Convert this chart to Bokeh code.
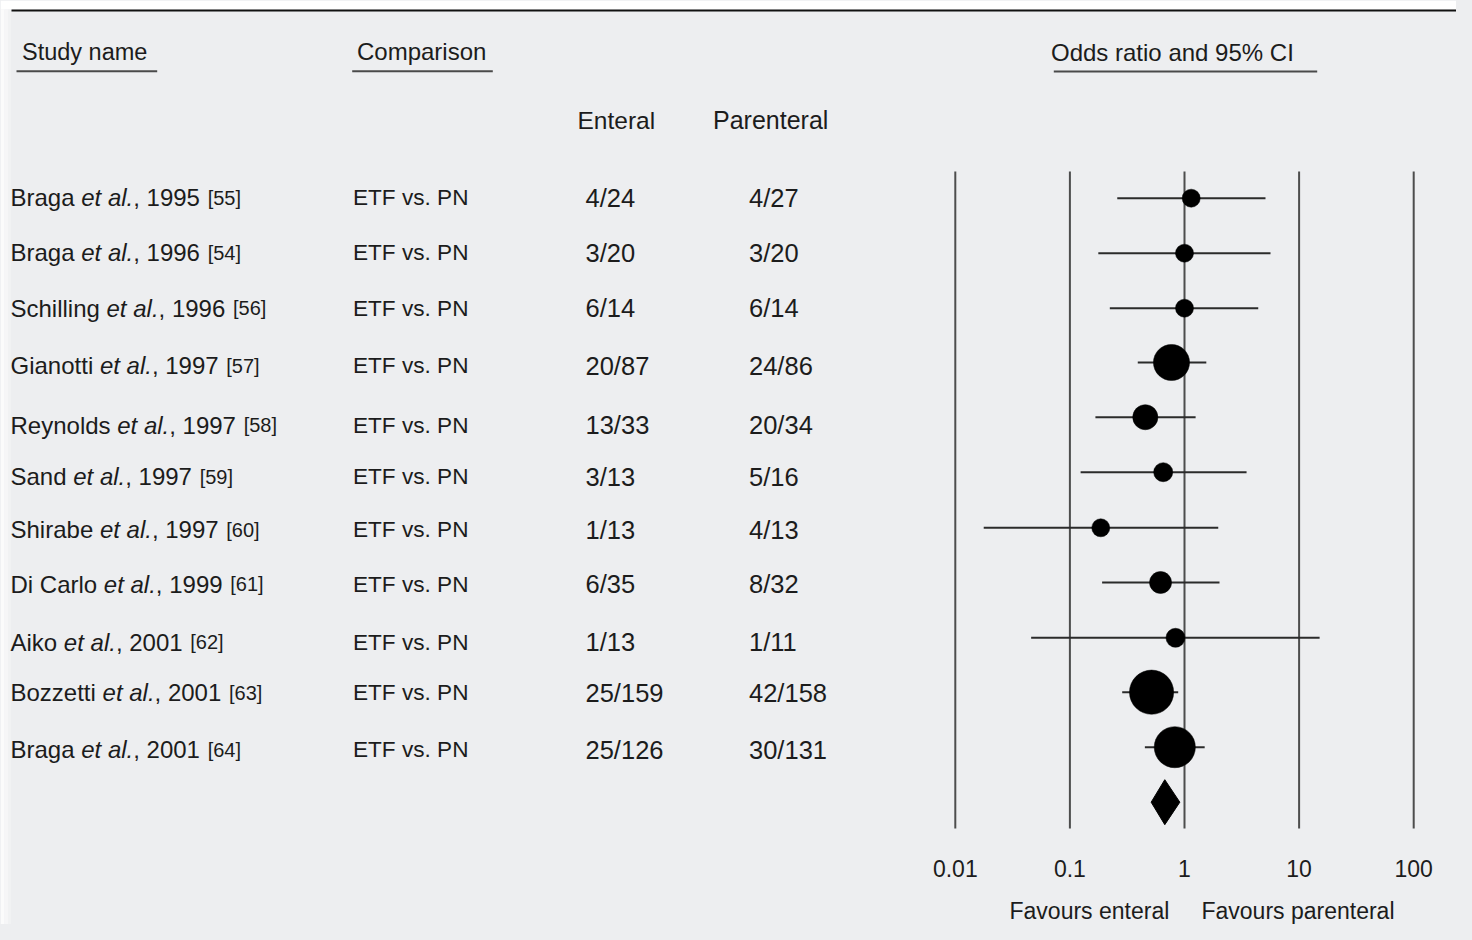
from bokeh.plotting import figure
from bokeh.models import Range1d, LogScale, ColumnDataSource
from bokeh.core.properties import value
from bokeh.embed import file_html
from bokeh.resources import INLINE

# ---------------- data ----------------
studies = ["Braga", "Braga", "Schilling", "Gianotti", "Reynolds", "Sand",
           "Shirabe", "Di Carlo", "Aiko", "Bozzetti", "Braga"]
years = [1995, 1996, 1996, 1997, 1997, 1997, 1997, 1999, 2001, 2001, 2001]
refs = [55, 54, 56, 57, 58, 59, 60, 61, 62, 63, 64]
comparison = ["ETF vs. PN"] * 11
enteral = ["4/24", "3/20", "6/14", "20/87", "13/33", "3/13", "1/13",
           "6/35", "1/13", "25/159", "25/126"]
parenteral = ["4/27", "3/20", "6/14", "24/86", "20/34", "5/16", "4/13",
              "8/32", "1/11", "42/158", "30/131"]
odds_ratio = [1.144, 1.0, 1.0, 0.77, 0.455, 0.652, 0.186, 0.618, 0.835, 0.516, 0.823]
ci_lower = [0.259, 0.177, 0.223, 0.391, 0.167, 0.124, 0.0177, 0.191, 0.0459, 0.286, 0.451]
ci_upper = [5.09, 5.63, 4.40, 1.55, 1.25, 3.48, 1.97, 2.02, 15.1, 0.881, 1.50]
weights = [4.0, 4.0, 4.0, 16.1, 7.8, 4.5, 4.0, 6.0, 4.5, 24.1, 20.9]  # relative weight (%)
pooled_or = 0.673
pooled_lower = 0.512
pooled_upper = 0.910
tick_values = [0.01, 0.1, 1, 10, 100]
tick_labels = ["0.01", "0.1", "1", "10", "100"]

# ---------------- layout (picture pixel positions) ----------------
text_row_y = [197, 252, 307.5, 365, 424.5, 476, 529, 583.5, 641.5, 692, 749]   # text baselines (shifted)
mark_row_y = [197.7, 252.7, 307.7, 362, 416.7, 471.7, 527.3, 582, 637.3, 691.7, 746.7]
pooled_y = 801.7
BG = "#edeef0"
INK = "#1c1c1c"
FONT = value("Liberation Sans")
TY = -8  # text baseline correction

# Arial / Liberation Sans advance widths (1/1000 em)
W = {" ": 278, ",": 278, ".": 278, "[": 278, "]": 278, "/": 278,
     "A": 667, "B": 667, "C": 722, "D": 722, "G": 778, "R": 722, "S": 667,
     "a": 556, "b": 556, "c": 500, "d": 556, "e": 556, "g": 556, "h": 556,
     "i": 222, "k": 500, "l": 222, "n": 556, "o": 556, "r": 333, "s": 500,
     "t": 278, "y": 500, "z": 500}


def tw(s, fs):
    return sum(W.get(c, 556) for c in s) * fs / 1000.0


p = figure(width=1456, height=924, output_backend="svg", toolbar_location=None,
           tools="", x_range=Range1d(0, 1456), y_range=Range1d(924, 0),
           x_axis_location=None, y_axis_location=None, min_border=0)
p.grid.visible = False
p.outline_line_color = None
p.background_fill_color = BG
p.border_fill_color = BG

# log scale for the odds-ratio panel: 1 -> x=1184, 114.6 px per decade
px_dec = 114.6
p.extra_x_ranges = {"or": Range1d(10 ** ((0 - 1184) / px_dec), 10 ** ((1456 - 1184) / px_dec))}
p.extra_x_scales = {"or": LogScale()}

# page frame details
p.quad(left=[0], right=[1456], bottom=[9], top=[0], fill_color="white", line_color=None)
p.quad(left=[0, 4, 7.5], right=[4, 7.5, 10.5], bottom=[924] * 3, top=[9] * 3,
       fill_color=["#fbfbfb", "#f6f6f7", "#f1f2f3"], line_color=None)
p.segment(x0=[11], x1=[1456], y0=[10], y1=[10], line_color="#111111", line_width=2)

# headers
hdr = ColumnDataSource(dict(
    x=[21.5, 356.5, 1050.5, 577, 712.5],
    y=[59 + TY, 59 + TY, 59.7 + TY, 127.5 + TY, 127.5 + TY],
    t=["Study name", "Comparison", "Odds ratio and 95% CI", "Enteral", "Parenteral"],
    fs=["23.5px", "24px", "24px", "24.5px", "25px"]))
p.text(x="x", y="y", text="t", source=hdr, text_font=FONT, text_font_size="fs",
       text_color=INK, text_baseline="alphabetic", text_align="left")
p.segment(x0=[16, 351.7, 1053.3], x1=[156.7, 492.3, 1316.7], y0=[70.7, 70.7, 71],
          y1=[70.7, 70.7, 71], line_color="#4a4a4a", line_width=2)

# study name segments
fs = 24
reg_x, reg_y, reg_t = [], [], []
it_x, it_y = [], []
ref_x, ref_y, ref_t = [], [], []
for i, name in enumerate(studies):
    x0 = 10.0
    y = text_row_y[i]
    reg_x.append(x0); reg_y.append(y); reg_t.append(name)
    x1 = x0 + tw(name + " ", fs)
    it_x.append(x1); it_y.append(y)
    x2 = x1 + tw("et al.", fs)
    yr = ", %d" % years[i]
    reg_x.append(x2); reg_y.append(y); reg_t.append(yr)
    x3 = x2 + tw(yr + " ", fs) + 1.0
    ref_x.append(x3); ref_y.append(y); ref_t.append("[%d]" % refs[i])

p.text(x=reg_x, y=reg_y, text=reg_t, text_font=FONT, text_font_size="24px",
       text_color=INK, text_baseline="alphabetic", text_align="left")
p.text(x=it_x, y=it_y, text=["et al."] * len(it_x), text_font=FONT, text_font_size="24px",
       text_font_style="italic", text_color=INK, text_baseline="alphabetic", text_align="left")
p.text(x=ref_x, y=ref_y, text=ref_t, text_font=FONT, text_font_size="20px",
       text_color=INK, text_baseline="alphabetic", text_align="left")

# comparison and counts columns
p.text(x=[352.5] * len(comparison), y=text_row_y, text=comparison, text_font=FONT,
       text_font_size="22.6px", text_color=INK, text_baseline="alphabetic", text_align="left")
p.text(x=[585] * len(enteral), y=text_row_y, text=enteral, text_font=FONT,
       text_font_size="25.5px", text_color=INK, text_baseline="alphabetic", text_align="left")
p.text(x=[748.5] * len(parenteral), y=text_row_y, text=parenteral, text_font=FONT,
       text_font_size="25.5px", text_color=INK, text_baseline="alphabetic", text_align="left")

# reference lines of the log axis
p.segment(x0=tick_values, x1=tick_values, y0=[171] * 5, y1=[828] * 5,
          line_color="#4d4d4d", line_width=2, x_range_name="or")

# confidence intervals and point estimates
p.segment(x0=ci_lower, x1=ci_upper, y0=mark_row_y, y1=mark_row_y,
          line_color="#2b2b2b", line_width=2, x_range_name="or")
sizes = [9 * w ** 0.5 for w in weights]
p.scatter(x=odds_ratio, y=mark_row_y, size=sizes, marker="circle",
          fill_color="black", line_color="black", line_width=0.5, x_range_name="or")

# pooled diamond
half_h = 22.5
p.patch(x=[pooled_lower, pooled_or, pooled_upper, pooled_or],
        y=[pooled_y, pooled_y - half_h, pooled_y, pooled_y + half_h],
        fill_color="black", line_color="black", line_width=1, x_range_name="or")

# tick labels and favours labels
p.text(x=tick_values, y=[875.5 + TY] * 5, text=tick_labels, text_font=FONT, text_font_size="23px",
       text_color=INK, text_baseline="alphabetic", text_align="center", x_range_name="or")
p.text(x=[10 ** ((1088.9 - 1184) / px_dec), 10 ** ((1297.5 - 1184) / px_dec)], y=[918 + TY] * 2,
       text=["Favours enteral", "Favours parenteral"], text_font=FONT, text_font_size="23px",
       text_color=INK, text_baseline="alphabetic", text_align="center", x_range_name="or")

html = file_html(p, INLINE)
html = html.replace("<head>", "<head><style>html, body { background: #edeef0; }</style>", 1)
open("out.html", "w").write(html)
